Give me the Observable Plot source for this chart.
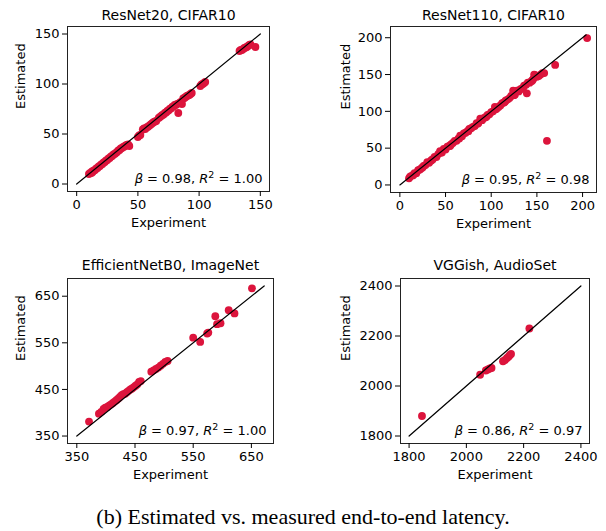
<!DOCTYPE html>
<html><head><meta charset="utf-8">
<script src="https://cdn.jsdelivr.net/npm/d3@7"></script>
<script src="https://cdn.jsdelivr.net/npm/@observablehq/plot@0.6"></script>
<style>
body{margin:0;background:#fff}
#wrap{position:relative;width:606px;height:531px;overflow:hidden;background:#fff}
.cell{position:absolute}
#caption{position:absolute;left:0;width:606px;top:505px;text-align:center;font-family:"Liberation Serif","Times New Roman",serif;font-size:22px;color:#000;line-height:24px;white-space:nowrap}
</style></head><body>
<div id="wrap"><div id="caption">(b) Estimated vs. measured end-to-end latency.</div></div>
<script>
// ---- data ----
const titles = ["ResNet20, CIFAR10", "ResNet110, CIFAR10", "EfficientNetB0, ImageNet", "VGGish, AudioSet"];
const betas = ["0.98", "0.95", "0.97", "0.86"];
const r2s = ["1.00", "0.98", "1.00", "0.97"];
const xLabel = "Experiment";
const yLabel = "Estimated";

const resnet20Points = [
 [10,10],[11,11],[12,11],[12.5,12.5],[13,12],[14,13.5],[15,14],[16,15.5],[17,16],[18,17.5],[19,18],[20,19.5],
 [21,20],[22,21.5],[23,22],[24,23.5],[25,24],[26,25.5],[27,26],[28,27.5],[29,28],[30,29.5],[31,30],[32,31],
 [33,32],[34,33.5],[35,34],[36,35.5],[37,36],[38,37],[39,37.5],[40,38.5],[41,39],[42,39.5],[43,38],
 [50,47],[51,48.5],[52,49],
 [54,54.5],[55,55.5],[56,55],[57,56.5],[58,57],[59,58],[60,59],[61,60],[62,61],[63,62],[64,62.5],[65,63],
 [67,66],[68,67],[69,68],[70,69],[71,69.5],[72,71],[73,71.5],[74,73],[75,73.5],[76,75],[77,75.5],[78,77],
 [79,77.5],[80,79],[81,79],[82,80],[83,71],[84,81],[85,82],[86,80],[87,85.5],[88,86],[89,87],[90,88],
 [91,88.5],[92,89],[93,90],[94,91],
 [101,98],[102,99.5],[103,100],[104,101],[105,102],
 [133,133],[134,134],[135,134],[136,135],[137,136],[138,136.5],[139,137],[140,138],[141,139],[142,139.5],[146,137]
];
const resnet110Points = [
 [10,9],[11,11],[12,12],[14,13],[15,14],[16,16],[18,16],[20,20],[22,21],[24,23],[25,24],[26,26],[28,27],
 [30,31],[32,30],[34,33],[35,34],[36,35],[38,38],[40,38],[42,42],[44,46],[45,44],[46,44],[48,49],[50,48],
 [52,52],[54,53],[55,53],[56,55],[58,57],[60,60],[62,60],[64,63],[65,63],[66,67],[68,66],[70,70],[72,71],
 [74,73],[75,73],[76,76],[78,77],[80,79],[82,80],[84,84],[85,83],[86,84],[88,90],[90,88],[92,91],[94,92],
 [95,93],[96,95],[98,96],[100,99],[102,100],[104,106],[105,103],[106,104],[108,106],[110,108],[112,111],
 [114,112],[115,113],[116,115],[118,116],[120,118],[122,121],[124,128],[125,122],[126,123],[128,128],
 [130,127],[132,130],[134,131],[135,132],[136,135],[138,136],[139,124.5],[140,139],[142,139],[144,141],
 [145,142],[146,144],[147,150],[148,149],[150,147],[152,148],[154,150],[156,152],[158,152],
 [161,60],[170,163],[205,199.5]
];
const efficientPoints = [
 [371,381],[388,398],[392,402],[396,408],[399,411],[403,413],[406,416],[409,418],[412,421],[415,424],
 [418,427],[421,430],[424,434],[427,438],[430,440],[433,441],[436,444],[439,447],[442,450],[445,452],
 [448,455],[451,458],[454,461],[457,466],[460,468],[478,488],[482,491],[486,494],[490,497],[494,501],
 [498,505],[502,509],[506,511],[550,561],[562,552],[574,570],[576,572],[588,607],[591,590],[597,592],
 [611,620],[621,613],[651,667]
];
const vggishPoints = [
 [1845,1880],[2048,2045],[2068,2062],[2075,2066],[2082,2070],[2088,2072],[2128,2099],[2135,2104],
 [2142,2112],[2148,2118],[2152,2124],[2156,2128],[2220,2230]
];
const diagonals = [[0,150],[0,204],[350,672],[1800,2400]];
const domains = [[-7.5,157.5],[-10.25,215.25],[334,688],[1770,2430]];
const tickValues = [[0,50,100,150],[0,50,100,150,200],[350,450,550,650],[1800,2000,2200,2400]];
const allPoints = [resnet20Points, resnet110Points, efficientPoints, vggishPoints];

// ---- layout (per panel) ----
const layout = [
 {left:0,   top:0,   W:300, H:240, ml:67, mr:31, mt:26, mb:49, yDx:-47, tDy:-11},
 {left:303, top:0,   W:303, H:240, ml:87, mr:10, mt:26, mb:48, yDx:-45, tDy:-11},
 {left:0,   top:250, W:300, H:240, ml:67, mr:27, mt:28, mb:47, yDx:-47, tDy:-13},
 {left:303, top:250, W:303, H:240, ml:97, mr:17, mt:28, mb:47, yDx:-55, tDy:-13}
];

const wrap = document.getElementById("wrap");
allPoints.forEach((pts, i) => {
  const L = layout[i];
  const data = pts.map(([x, y]) => ({x, y}));
  const diag = diagonals[i].map(v => ({x: v, y: v}));
  const note = "NOTE" + i;
  const chart = Plot.plot({
    width: L.W, height: L.H,
    marginLeft: L.ml, marginRight: L.mr, marginTop: L.mt, marginBottom: L.mb,
    style: {fontFamily: "'DejaVu Sans', sans-serif", fontSize: "13px", color: "#000", background: "transparent", overflow: "visible"},
    x: {domain: domains[i]},
    y: {domain: domains[i]},
    marks: [
      Plot.dot(data, {x: "x", y: "y", r: 3.9, fill: "#dc143c"}),
      Plot.line(diag, {x: "x", y: "y", stroke: "#000", strokeWidth: 1.2}),
      Plot.frame({stroke: "#222", strokeWidth: 1}),
      Plot.axisX({ticks: tickValues[i], tickFormat: d => String(d), tickSize: 5, tickPadding: 3, label: null, fontSize: 13}),
      Plot.axisY({ticks: tickValues[i], tickFormat: d => String(d), tickSize: 5, tickPadding: 3, label: null, fontSize: 13}),
      Plot.text([titles[i]], {text: d => d, frameAnchor: "top", dy: L.tDy, lineAnchor: "middle", fontSize: 14}),
      Plot.text([xLabel], {text: d => d, frameAnchor: "bottom", dy: 31, lineAnchor: "middle", fontSize: 13}),
      Plot.text([yLabel], {text: d => d, frameAnchor: "left", dx: L.yDx, rotate: -90, lineAnchor: "middle", fontSize: 13}),
      Plot.text([note], {text: d => d, frameAnchor: "bottom-right", dx: -7, dy: -13, textAnchor: "end", lineAnchor: "middle", fontSize: 13})
    ]
  });
  d3.select(chart).selectAll("text").filter(function() { return this.textContent === note; }).each(function() {
    const t = d3.select(this);
    t.text(null);
    t.append("tspan").attr("font-style", "italic").text("β");
    t.append("tspan").text(" = " + betas[i] + ", ");
    t.append("tspan").attr("font-style", "italic").text("R");
    t.append("tspan").attr("font-size", "9.5px").attr("dy", "-5").text("2");
    t.append("tspan").attr("dy", "5").text(" = " + r2s[i]);
  });
  const cell = document.createElement("div");
  cell.className = "cell";
  cell.style.left = L.left + "px";
  cell.style.top = L.top + "px";
  cell.appendChild(chart);
  wrap.appendChild(cell);
});
</script>
</body></html>
